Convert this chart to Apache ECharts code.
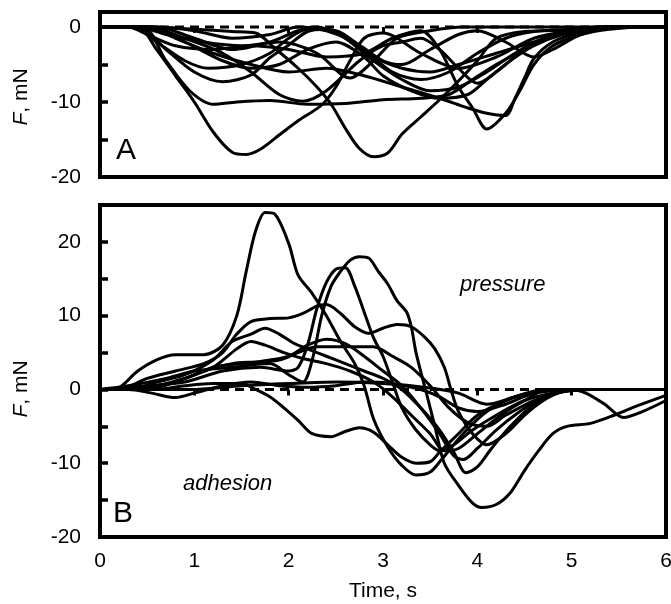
<!DOCTYPE html>
<html>
<head>
<meta charset="utf-8">
<script src="https://cdn.jsdelivr.net/npm/echarts@6/dist/echarts.min.js"></script>
<style>html,body{margin:0;padding:0;background:#fff;}#c{width:671px;height:604px;}</style>
</head>
<body>
<div id="c"></div>
<script>
// ---- tick labels ----
const timeTicks = [0, 1, 2, 3, 4, 5, 6];
const yTicksA = [-20, -10, 0];
const yTicksB = [-20, -10, 0, 10, 20];

// ---- Panel A curves: [time s, F mN] ----
const curveA1 = [[0,0],[0.4,0],[0.6,-3],[0.8,-6.5],[1.0,-10],[1.2,-14],[1.4,-16.7],[1.55,-17],[1.7,-16.3],[1.9,-14.4],[2.1,-12.5],[2.35,-10.4],[2.5,-8],[2.65,-4.5],[2.8,-1.5],[3.0,-0.8],[3.4,-3.5],[3.8,-5.5],[4.2,-4],[4.6,-1.5],[5.0,-0.5],[5.4,0],[6,0]];
const curveA2 = [[0,0],[0.5,0],[1.0,-0.3],[1.4,-0.6],[1.65,-0.8],[1.85,-2.8],[2.1,-5.5],[2.3,-8],[2.45,-10.3],[2.6,-13.5],[2.75,-16.2],[2.9,-17.3],[3.05,-16.8],[3.2,-14.3],[3.4,-12],[3.6,-9.7],[3.8,-7.2],[4.0,-4.5],[4.2,-1.5],[4.5,-0.6],[5.0,-0.4],[5.4,0],[6,0]];
const curveA3 = [[0,0],[0.3,0],[0.5,-1],[0.8,-2.5],[1.2,-3],[1.6,-2.5],[2.0,-3],[2.4,-4],[2.8,-3.5],[3.1,-1.5],[3.4,-0.5],[3.6,-3],[3.8,-8],[3.95,-10.8],[4.1,-13.6],[4.3,-11.5],[4.45,-8.5],[4.6,-5],[4.8,-2.5],[5.1,-1],[5.4,-0.3],[5.8,0],[6,0]];
const curveA4 = [[0,0],[0.5,0],[0.8,-1.5],[1.2,-3.5],[1.6,-5],[2.0,-6],[2.4,-5.5],[2.8,-6.5],[3.2,-8],[3.6,-9.5],[3.9,-10.8],[4.1,-11.5],[4.3,-11.8],[4.4,-9.5],[4.5,-6.8],[4.6,-4.2],[4.8,-2],[5.1,-0.7],[5.5,0],[6,0]];
const curveA5 = [[0,0],[0.45,0],[0.7,-4.5],[0.95,-8.5],[1.2,-10.3],[1.45,-10],[1.8,-9.8],[2.2,-10.3],[2.6,-10.2],[3.0,-9.7],[3.4,-9.5],[3.7,-9],[3.95,-7],[4.2,-5],[4.5,-3],[4.8,-1.2],[5.2,-0.3],[5.6,0],[6,0]];
const curveA6 = [[0,0],[0.4,0],[0.7,-3],[1.0,-6],[1.3,-7.3],[1.6,-6.4],[1.8,-4.1],[2.0,-2.4],[2.2,-0.6],[2.4,-0.3],[2.6,-1.5],[2.9,-4.5],[3.2,-7],[3.5,-8.5],[3.8,-8],[4.1,-6],[4.4,-3.5],[4.7,-1.5],[5.0,-0.5],[5.4,0],[6,0]];
const curveA7 = [[0,0],[0.35,0],[0.6,-2],[0.9,-4.5],[1.15,-5.5],[1.5,-5],[1.8,-3.5],[2.0,-1.5],[2.2,-0.3],[2.5,-0.5],[2.8,-3],[3.1,-6],[3.4,-7],[3.7,-6],[4.0,-3.5],[4.3,-1.5],[4.6,-0.6],[5.0,-0.3],[5.3,0],[6,0]];
const curveA8 = [[0,0],[0.5,0],[0.9,-1.5],[1.3,-3.5],[1.6,-6],[1.9,-9],[2.15,-9.9],[2.4,-8.5],[2.75,-4.5],[3.0,-2.5],[3.2,-2],[3.4,-1.5],[3.6,-3],[3.8,-5.5],[4.0,-7.5],[4.2,-6],[4.5,-3],[4.8,-1.2],[5.2,-0.3],[5.6,0],[6,0]];
const curveA9 = [[0,0],[0.6,0],[1.0,-1.5],[1.4,-3],[1.8,-2],[2.1,-0.5],[2.3,0],[2.6,-1.5],[2.9,-4],[3.2,-5.5],[3.5,-6],[3.8,-5],[4.2,-3.5],[4.6,-2],[5.0,-0.7],[5.4,0],[6,0]];
const curveA10 = [[0,0],[0.5,0],[0.9,-2],[1.3,-4.5],[1.6,-5.5],[1.9,-5],[2.2,-3],[2.5,-2],[2.8,-4],[3.0,-6.5],[3.3,-8.5],[3.6,-9.5],[3.9,-9],[4.1,-7],[4.35,-4.5],[4.6,-2.5],[4.9,-1],[5.3,0],[6,0]];
const curveA11 = [[0,0],[0.6,0],[1.0,-0.5],[1.4,-1.5],[1.8,-1],[2.1,0],[2.4,-0.5],[2.7,-2],[3.0,-4.5],[3.2,-5],[3.5,-3],[3.8,-1],[4.0,-0.5],[4.3,-2],[4.6,-4],[4.8,-3],[5.1,-1],[5.5,0],[6,0]];
const curveA12 = [[0,0],[0.4,0],[0.7,-1],[1.1,-2],[1.5,-2.5],[1.9,-2],[2.3,-3.5],[2.65,-6.8],[2.9,-4.5],[3.15,-1.5],[3.5,-0.5],[3.85,0],[6,0]];
const zeroA = [[0,0],[6,0]];

// ---- Panel B curves: [time s, F mN] ----
const curveB1 = [[0,0],[0.15,0],[0.4,2.5],[0.6,4],[0.8,4.7],[1.1,4.7],[1.3,6],[1.45,10],[1.55,16],[1.65,21.5],[1.75,24],[1.85,23.8],[2.0,19.8],[2.1,15.5],[2.25,13],[2.4,10],[2.55,6.5],[2.7,3.5],[2.8,0.5],[2.9,-4],[3.05,-7.8],[3.2,-10.3],[3.35,-11.6],[3.5,-11.2],[3.62,-9.5],[3.85,-6],[4.1,-3],[4.4,-1],[4.7,-0.3],[5.0,0],[6,0]];
const curveB2 = [[0,0],[0.3,0.5],[0.7,1.5],[1.0,2.5],[1.4,3],[1.8,3.5],[2.0,2],[2.15,1],[2.25,4],[2.35,10],[2.45,14],[2.55,16],[2.65,17.5],[2.75,18],[2.85,17.8],[2.95,16],[3.05,14.3],[3.15,12],[3.25,10.5],[3.3,8.5],[3.35,5],[3.45,0],[3.55,-5],[3.65,-10],[3.8,-13],[3.95,-15.4],[4.05,-16],[4.2,-15.6],[4.35,-14],[4.5,-11],[4.65,-8.3],[4.8,-6],[4.95,-5],[5.2,-4.6],[5.45,-3.5],[5.7,-2.2],[6,-0.8]];
const curveB3 = [[0,0],[0.5,0.5],[0.9,1],[1.3,2.5],[1.7,3],[2.0,2.5],[2.1,3],[2.2,6],[2.3,11],[2.4,14.5],[2.5,16.3],[2.6,16.5],[2.7,14],[2.8,10.5],[2.9,7],[3.0,4.5],[3.1,1],[3.2,-2.5],[3.35,-5.5],[3.5,-7.5],[3.6,-8.3],[3.75,-7.5],[3.95,-5.5],[4.2,-3.5],[4.5,-1.5],[4.8,-0.5],[5.2,0],[6,0]];
const curveB4 = [[0,0],[0.2,0],[0.5,1.5],[0.8,2.5],[1.1,3.5],[1.3,5],[1.45,7.5],[1.6,9.2],[1.8,9.6],[2.0,9.7],[2.15,10.3],[2.3,11.3],[2.4,11.5],[2.55,10.3],[2.7,8.5],[2.85,7.6],[3.0,8.3],[3.15,8.8],[3.3,8.5],[3.45,7],[3.55,5.5],[3.65,3],[3.72,0],[3.8,-3],[3.95,-6],[4.1,-7.5],[4.3,-6],[4.5,-3.5],[4.7,-1.5],[4.9,-0.3],[5.1,0],[6,0]];
const curveB5 = [[0,0],[0.3,0],[0.6,1],[0.9,2],[1.2,4],[1.4,6.5],[1.6,7.5],[1.75,8.3],[1.9,7.5],[2.05,6.3],[2.2,5.5],[2.4,4.5],[2.6,3.5],[2.8,2.5],[3.0,1.5],[3.2,0],[3.4,-2.5],[3.6,-5.5],[3.75,-8.5],[3.88,-11.3],[4.0,-10.5],[4.15,-8],[4.35,-5],[4.6,-2],[4.85,-0.5],[5.1,0],[6,0]];
const curveB6 = [[0,0],[0.3,0],[0.6,0.5],[0.9,1.5],[1.2,3],[1.45,5.5],[1.6,6.5],[1.75,6],[1.95,5],[2.15,4.2],[2.4,3.5],[2.65,2.5],[2.9,1],[3.1,-1],[3.3,-3.5],[3.5,-6],[3.65,-8.3],[3.8,-8],[4.0,-6],[4.25,-3.5],[4.5,-1.5],[4.75,0],[6,0]];
const curveB7 = [[0,0],[0.5,0],[0.8,1],[1.1,2.5],[1.4,3.5],[1.7,3.8],[2.0,4.5],[2.2,6],[2.4,6.8],[2.6,6.2],[2.8,4.5],[3.0,2.5],[3.2,0.5],[3.4,-2.5],[3.6,-6],[3.75,-9],[3.85,-9.5],[4.0,-8],[4.2,-5.5],[4.45,-3],[4.7,-1],[5.0,0],[6,0]];
const curveB8 = [[0,0],[0.5,0.2],[0.9,1.5],[1.2,3],[1.5,3.5],[1.9,4],[2.1,5],[2.3,5.8],[2.6,5.8],[2.9,5.8],[3.1,4.5],[3.3,3],[3.5,0.5],[3.7,-2.5],[3.9,-4.5],[4.1,-5],[4.3,-3.5],[4.6,-1.5],[4.9,-0.3],[5.2,0],[6,0]];
const curveB9 = [[0,0],[0.6,0],[0.9,0.5],[1.2,0.8],[1.5,0.8],[1.65,0],[1.8,-1],[1.95,-2.5],[2.1,-4.2],[2.25,-6],[2.45,-6.4],[2.6,-5.7],[2.75,-5.2],[2.9,-5.8],[3.05,-7.5],[3.2,-9.2],[3.35,-10],[3.5,-9.8],[3.6,-8.5],[3.8,-6],[4.0,-3.5],[4.3,-1.5],[4.6,-0.3],[4.9,0],[6,0]];
const curveB10 = [[0,0],[0.3,0],[0.55,-0.5],[0.8,-1.1],[1.0,-0.5],[1.3,0.5],[1.6,1],[1.9,0.5],[2.2,0.3],[2.5,0.5],[2.8,1],[3.1,0.8],[3.4,0],[3.6,-1],[3.8,-2.5],[4.0,-3],[4.3,-2],[4.6,-0.5],[4.9,0],[6,0]];
const curveB11 = [[0,0],[1.0,0],[1.5,0.5],[2.0,0.8],[2.5,1],[3.0,0.8],[3.5,0.2],[3.8,-0.5],[4.1,-2],[4.4,-1],[4.7,0],[5.0,0],[5.15,-0.5],[5.35,-2],[5.55,-3.8],[5.75,-3],[6,-1.5]];
const zeroB = [[0,0],[6,0]];

const curvesA = [curveA1,curveA2,curveA3,curveA4,curveA5,curveA6,curveA7,curveA8,curveA9,curveA10,curveA11,curveA12];
const curvesB = [curveB1,curveB2,curveB3,curveB4,curveB5,curveB6,curveB7,curveB8,curveB9,curveB10,curveB11];

const FONT = '"Liberation Sans", Arial, sans-serif';
const chart = echarts.init(document.getElementById('c'), null, {renderer: 'canvas'});

function xAxisFor(idx, showLabels) {
  return {
    type: 'value', gridIndex: idx, min: 0, max: 6, interval: 1,
    axisLine: {show: false},
    axisTick: {show: true, inside: false, length: 6, lineStyle: {color: '#000', width: 3}},
    axisLabel: {show: showLabels, color: '#000', fontFamily: FONT, fontSize: 21, margin: 14,
      formatter: v => timeTicks.includes(v) ? String(v) : ''},
    splitLine: {show: false},
    name: showLabels ? 'Time, s' : '',
    nameLocation: 'middle', nameGap: 44,
    nameTextStyle: {color: '#000', fontFamily: FONT, fontSize: 21}
  };
}
function yAxisFor(idx, min, max, ticks) {
  return {
    type: 'value', gridIndex: idx, min: min, max: max, interval: 5,
    axisLine: {show: false},
    axisTick: {show: true, inside: true, length: 8, lineStyle: {color: '#000', width: 3.5}},
    axisLabel: {color: '#000', fontFamily: FONT, fontSize: 21, margin: 19,
      formatter: v => ticks.includes(v) ? String(v) : ''},
    splitLine: {show: false}
  };
}

const series = [];
series.push({type: 'line', xAxisIndex: 0, yAxisIndex: 0, data: zeroA, showSymbol: false, silent: true,
  lineStyle: {color: '#000', width: 3, type: [9, 6]}, z: 1});
curvesA.forEach(c => series.push({type: 'line', xAxisIndex: 0, yAxisIndex: 0, data: c, smooth: 0.3,
  showSymbol: false, lineStyle: {color: '#000', width: 3}, z: 2}));
series.push({type: 'line', xAxisIndex: 1, yAxisIndex: 1, data: zeroB, showSymbol: false, silent: true,
  lineStyle: {color: '#000', width: 3, type: [9, 6]}, z: 1});
curvesB.forEach(c => series.push({type: 'line', xAxisIndex: 1, yAxisIndex: 1, data: c, smooth: 0.3,
  showSymbol: false, lineStyle: {color: '#000', width: 3}, z: 2}));

const yName = {
  text: '{i|F}, mN',
  font: '21px ' + FONT, fill: '#000', align: 'center', verticalAlign: 'middle',
  rich: {i: {fontStyle: 'italic', fontFamily: FONT, fontSize: 21, fill: '#000', color: '#000'}}
};

chart.setOption({
  animation: false,
  backgroundColor: '#fff',
  grid: [
    {left: 100, right: 5, top: 12, height: 165, show: true, borderColor: '#000', borderWidth: 4, backgroundColor: 'transparent', outerBoundsMode: 'none', containLabel: false},
    {left: 100, right: 5, top: 205, height: 332, show: true, borderColor: '#000', borderWidth: 4, backgroundColor: 'transparent', outerBoundsMode: 'none', containLabel: false}
  ],
  xAxis: [xAxisFor(0, false), xAxisFor(1, true)],
  yAxis: [yAxisFor(0, -20, 2, yTicksA), yAxisFor(1, -20, 25, yTicksB)],
  series: series,
  graphic: [
    {type: 'text', x: 21, y: 97, rotation: Math.PI / 2, style: Object.assign({}, yName)},
    {type: 'text', x: 21, y: 389, rotation: Math.PI / 2, style: Object.assign({}, yName)},
    {type: 'text', left: 116, top: 136, style: {text: 'A', font: '30px ' + FONT, fill: '#000'}},
    {type: 'text', left: 113, top: 499, style: {text: 'B', font: '30px ' + FONT, fill: '#000'}},
    {type: 'text', left: 460, top: 274, style: {text: 'pressure', font: 'italic 22px ' + FONT, fill: '#000'}},
    {type: 'text', left: 183, top: 473, style: {text: 'adhesion', font: 'italic 22px ' + FONT, fill: '#000'}}
  ]
});
</script>
</body>
</html>
